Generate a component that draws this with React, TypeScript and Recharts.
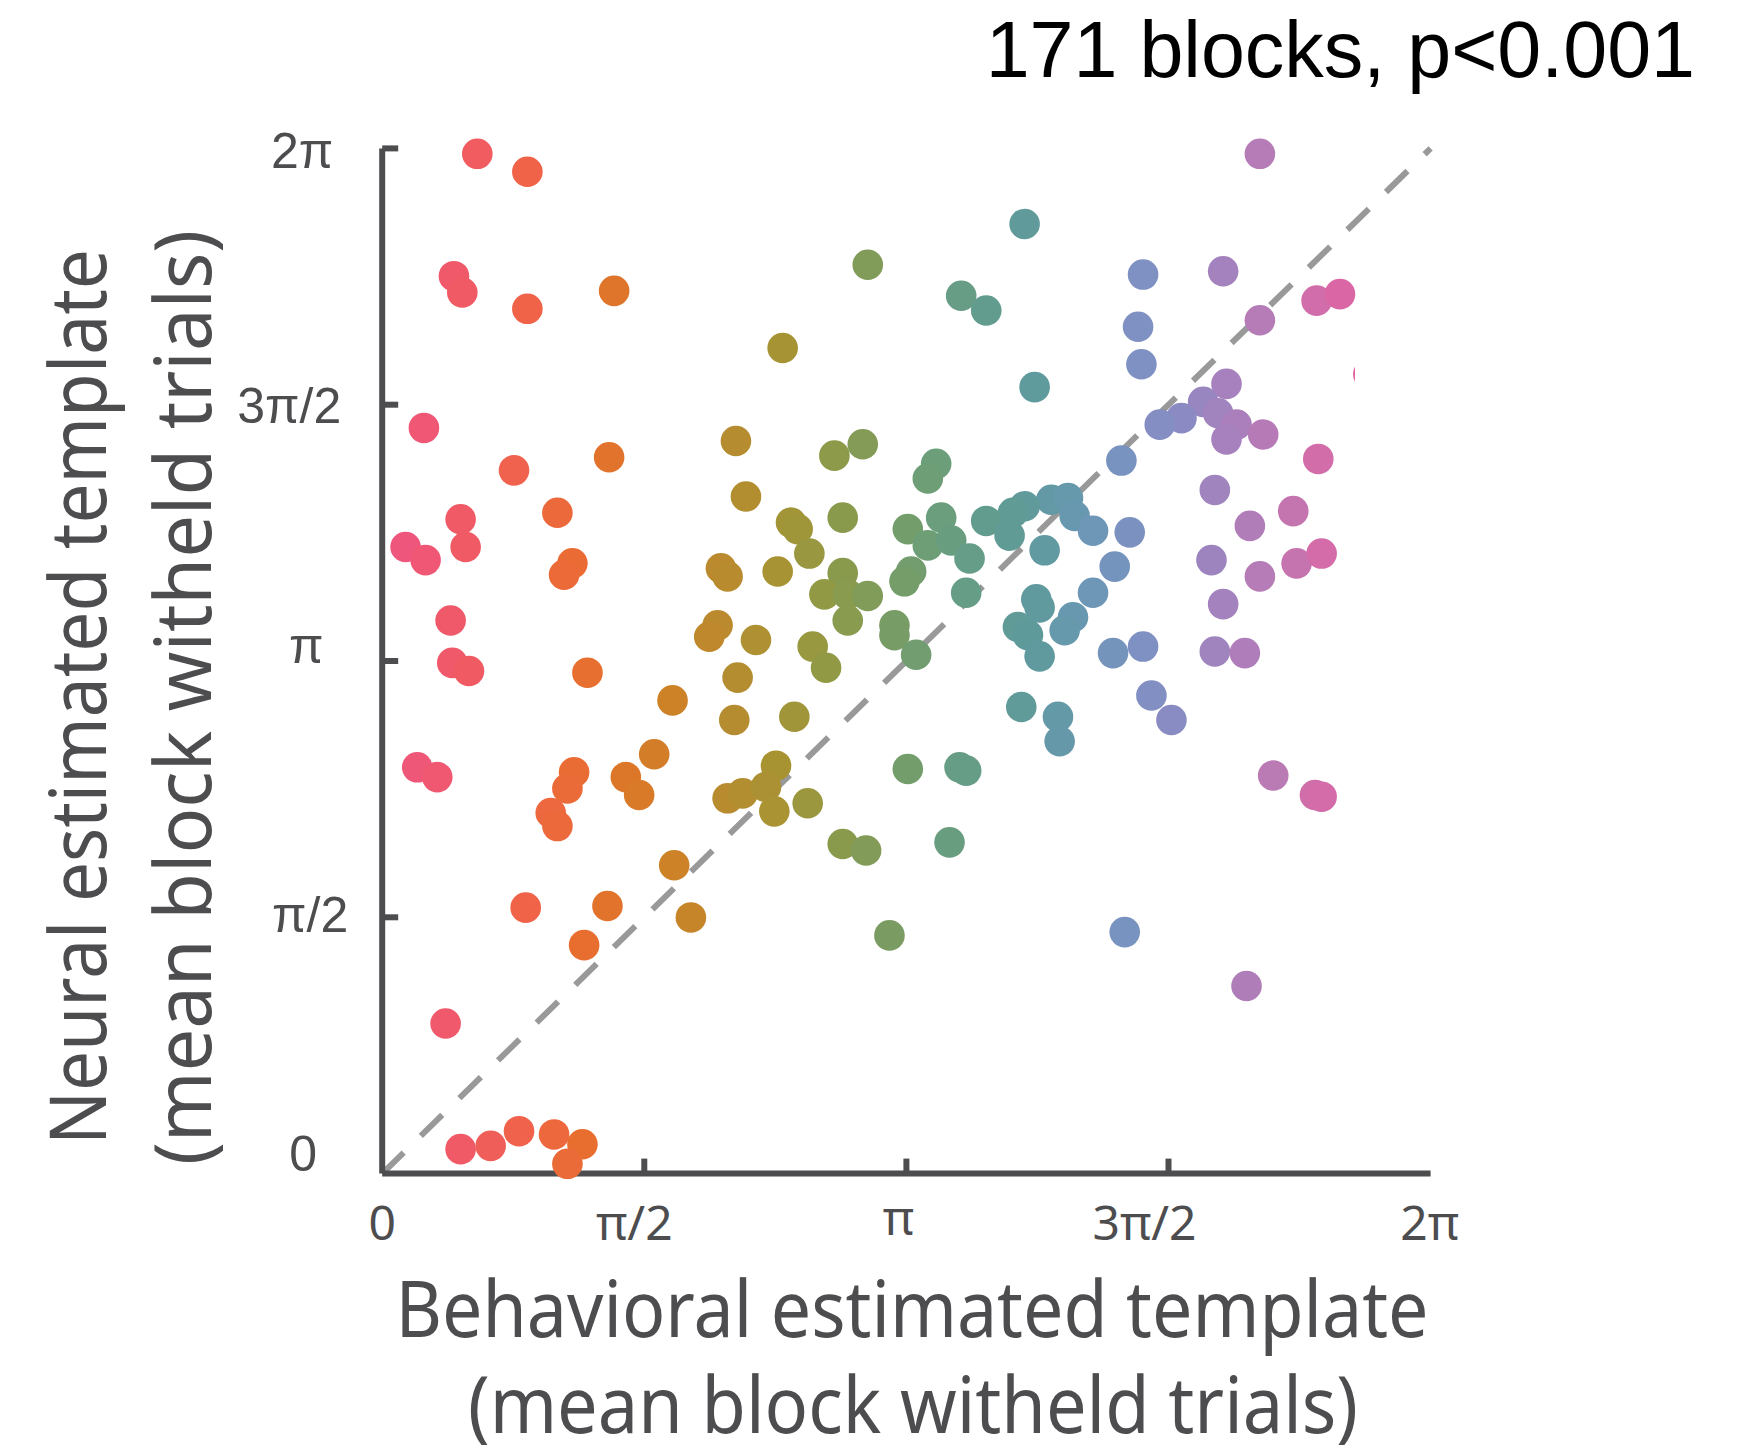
import React from "react";
import { ScatterChart, Scatter, XAxis, YAxis, ReferenceLine } from "recharts";

const TWO_PI = 2 * Math.PI;

// behavioral (x) and neural (y) template estimates, radians, one entry per block
const BEHAV_X = [
  0.57, 0.87, 0.43, 0.48, 0.87, 1.39, 2.91, 2.40, 0.25, 0.79,
  1.36, 2.12, 2.71, 2.88, 2.18, 0.47, 0.50, 0.14, 0.26, 1.05,
  1.14, 1.09, 2.45, 2.49, 2.56, 2.76, 2.03, 2.07, 2.37, 2.76,
  2.65, 2.79, 2.91, 2.79, 2.01, 1.96, 2.24, 2.58, 0.41, 0.42,
  0.52, 1.23, 2.13, 2.66, 1.74, 2.11, 2.47, 0.21, 0.33, 1.15,
  1.11, 1.01, 1.05, 1.46, 1.54, 1.63, 2.07, 2.16, 2.36, 2.30,
  2.35, 2.55, 2.76, 2.90, 3.15, 1.75, 1.85, 1.35, 1.21, 0.86,
  3.04, 0.38, 0.47, 0.65, 0.82, 1.03, 1.20, 1.11, 5.26, 3.85,
  4.56, 5.04, 3.47, 3.62, 4.53, 5.26, 5.60, 5.74, 4.55, 3.91,
  5.06, 4.92, 4.79, 4.66, 5.01, 5.12, 5.06, 5.28, 4.43, 5.61,
  3.32, 3.27, 4.99, 4.01, 4.11, 3.85, 3.78, 4.15, 4.26, 3.62,
  3.76, 3.35, 3.15, 3.27, 3.41, 3.52, 3.97, 4.48, 5.46, 5.20,
  5.48, 5.63, 4.97, 5.26, 5.04, 4.39, 4.26, 3.17, 3.13, 3.50,
  3.92, 3.94, 3.81, 3.87, 4.14, 4.09, 3.94, 4.38, 4.56, 4.99,
  5.17, 3.07, 3.07, 3.20, 5.91, 5.93, 3.83, 4.05, 4.06, 4.61,
  4.73, 3.46, 3.50, 3.40, 5.34, 5.59, 5.63, 4.45, 5.18,
];

const NEURAL_Y = [
  6.25, 6.14, 5.50, 5.40, 5.30, 5.41, 5.57, 5.06, 4.57, 4.31,
  4.39, 4.49, 4.40, 4.47, 4.15, 4.01, 3.84, 3.84, 3.76, 4.05,
  3.74, 3.67, 3.99, 3.95, 3.80, 4.02, 3.71, 3.66, 3.69, 3.68,
  3.55, 3.55, 3.54, 3.39, 3.36, 3.29, 3.27, 3.23, 3.39, 3.13,
  3.08, 3.07, 3.04, 3.10, 2.90, 2.78, 2.80, 2.49, 2.43, 2.46,
  2.36, 2.21, 2.13, 2.43, 2.32, 2.57, 2.30, 2.33, 2.50, 2.37,
  2.22, 2.27, 2.02, 1.98, 2.48, 1.89, 1.57, 1.64, 1.40, 1.63,
  1.46, 0.92, 0.15, 0.17, 0.26, 0.24, 0.18, 0.06, 6.25, 5.82,
  5.51, 5.53, 5.38, 5.29, 5.19, 5.23, 5.35, 5.39, 4.96, 4.82,
  4.84, 4.73, 4.63, 4.59, 4.66, 4.59, 4.50, 4.53, 4.37, 4.38,
  4.35, 4.26, 4.19, 4.13, 4.14, 4.09, 4.05, 4.03, 3.94, 4.00,
  3.91, 4.02, 3.95, 3.85, 3.88, 3.77, 3.82, 3.93, 4.06, 3.97,
  3.74, 3.80, 3.76, 3.66, 3.49, 3.72, 3.56, 3.69, 3.63, 3.56,
  3.52, 3.47, 3.35, 3.30, 3.41, 3.33, 3.17, 3.19, 3.23, 3.20,
  3.19, 3.36, 3.30, 3.18, 4.90, 4.18, 2.86, 2.80, 2.65, 2.93,
  2.78, 2.49, 2.47, 2.03, 2.44, 2.32, 2.31, 1.48, 1.15,
];

const TICKS = [0, Math.PI / 2, Math.PI, (3 * Math.PI) / 2, TWO_PI];
const TICK_LABELS = ["0", "π/2", "π", "3π/2", "2π"];

// muted circular colormap, sampled from the figure (position in radians -> colour)
const CMAP_POS = [0, 0.5, 0.9, 1.2, 1.5, 1.8, 2.1, 2.4, 2.7, 3.0, 3.3, 3.6, 3.9, 4.2, 4.5, 4.8, 5.1, 5.4, 5.7, 6.0];
const CMAP_HEX = [
  "#ee5486", "#f05a64", "#f06446", "#e86e30", "#da7828", "#ca8428", "#b68c30",
  "#a69434", "#8e9a48", "#7c9c60", "#6c9e78", "#629c8e", "#5f9a9c", "#6a98b4",
  "#7c92c2", "#8c8ac2", "#aa80bc", "#be78b2", "#da68a6", "#e45c9e",
];

const AXIS_GREY = "#4d4d4f";
const W = 1757;
const H = 1447;
const PLOT_LEFT = 382.2;
const PLOT_TOP = 148.4;
const PLOT_W = 1048.4;
const PLOT_H = 1025.2;
const Y_AXIS_W = 100;
const X_AXIS_H = 100;
const DOT_R = 15.3;
const PX_PER_RAD = PLOT_W / TWO_PI;
// the figure crops markers at this behavioral value on the right
const CLIP_X = 5.83;

const points = BEHAV_X.map((x, i) => ({ x, y: NEURAL_Y[i] }));

function hexToRgb(h: string) {
  return [1, 3, 5].map((k) => parseInt(h.slice(k, k + 2), 16));
}

function phaseColor(v: number) {
  if (v <= CMAP_POS[0]) return CMAP_HEX[0];
  for (let i = 1; i < CMAP_POS.length; i++) {
    if (v <= CMAP_POS[i]) {
      const t = (v - CMAP_POS[i - 1]) / (CMAP_POS[i] - CMAP_POS[i - 1]);
      const a = hexToRgb(CMAP_HEX[i - 1]);
      const b = hexToRgb(CMAP_HEX[i]);
      const c = a.map((ch, k) => Math.round(ch + (b[k] - ch) * t));
      return `rgb(${c[0]},${c[1]},${c[2]})`;
    }
  }
  return CMAP_HEX[CMAP_HEX.length - 1];
}

function Dot(props: any) {
  const { cx, cy, payload } = props;
  if (cx == null || cy == null) return null;
  const fill = phaseColor(payload.x);
  if (payload.x > CLIP_X) {
    const edge = cx - (payload.x - CLIP_X) * PX_PER_RAD;
    const id = `edge-clip-${Math.round(payload.x * 100)}-${Math.round(payload.y * 100)}`;
    return (
      <g>
        <defs>
          <clipPath id={id}>
            <rect x={edge - 60} y={cy - 30} width={60} height={60} />
          </clipPath>
        </defs>
        <circle cx={cx} cy={cy} r={DOT_R} fill={fill} clipPath={`url(#${id})`} />
      </g>
    );
  }
  return <circle cx={cx} cy={cy} r={DOT_R} fill={fill} />;
}

// label nudges copied from the figure's own tick text placement
const X_NUDGE = [
  { dx: 0, dy: 66 },
  { dx: -10, dy: 66 },
  { dx: -8, dy: 61 },
  { dx: -24, dy: 66 },
  { dx: -1, dy: 66 },
];
const Y_NUDGE = [
  { dx: -79, dy: -3 },
  { dx: -72, dy: 15 },
  { dx: -76, dy: 2 },
  { dx: -93, dy: 18 },
  { dx: -80, dy: 20 },
];

function XTick(props: any) {
  const { x, y, index } = props;
  const n = X_NUDGE[index];
  const showLine = index > 0 && index < TICKS.length - 1;
  return (
    <g>
      {showLine && <line x1={x} y1={y} x2={x} y2={y - 15} stroke={AXIS_GREY} strokeWidth={6} />}
      <text
        x={x + n.dx}
        y={y + n.dy}
        textAnchor="middle"
        fill={AXIS_GREY}
        fontFamily="Noto Sans"
        fontSize={48}
      >
        {TICK_LABELS[index]}
      </text>
    </g>
  );
}

function YTick(props: any) {
  const { x, y, index } = props;
  const n = Y_NUDGE[index];
  return (
    <g>
      {index > 0 && <line x1={x} y1={y} x2={x + 16} y2={y} stroke={AXIS_GREY} strokeWidth={6} />}
      <text
        x={x + n.dx}
        y={y + n.dy}
        textAnchor="middle"
        fill={AXIS_GREY}
        fontFamily="Liberation Sans"
        fontSize={50}
      >
        {TICK_LABELS[index]}
      </text>
    </g>
  );
}

export default function App() {
  const titleFont = { fontFamily: "Noto Sans", fontSize: 78, fill: AXIS_GREY };
  return (
    <div style={{ position: "absolute", left: 0, top: 0, width: W, height: H, background: "#fff" }}>
      <ScatterChart
        width={W}
        height={H}
        margin={{
          top: PLOT_TOP,
          left: PLOT_LEFT - Y_AXIS_W,
          right: W - PLOT_LEFT - PLOT_W,
          bottom: H - PLOT_TOP - PLOT_H - X_AXIS_H,
        }}
      >
        <XAxis
          type="number"
          dataKey="x"
          domain={[0, TWO_PI]}
          ticks={TICKS}
          interval={0}
          height={X_AXIS_H}
          tickSize={0}
          tickMargin={0}
          tickLine={false}
          axisLine={{ stroke: AXIS_GREY, strokeWidth: 6 }}
          tick={<XTick />}
        />
        <YAxis
          type="number"
          dataKey="y"
          domain={[0, TWO_PI]}
          ticks={TICKS}
          interval={0}
          width={Y_AXIS_W}
          tickSize={0}
          tickMargin={0}
          tickLine={false}
          axisLine={{ stroke: AXIS_GREY, strokeWidth: 6 }}
          tick={<YTick />}
        />
        <ReferenceLine
          segment={[
            { x: 0, y: 0 },
            { x: TWO_PI, y: TWO_PI },
          ]}
          stroke="#999999"
          strokeWidth={6}
          strokeDasharray="30 24"
          ifOverflow="visible"
        />
        <Scatter data={points} shape={<Dot />} isAnimationActive={false} />
      </ScatterChart>
      <svg
        width={W}
        height={H}
        style={{ position: "absolute", left: 0, top: 0, pointerEvents: "none" }}
      >
        <text
          x={1695}
          y={77}
          textAnchor="end"
          fontFamily="Liberation Sans"
          fontSize={79}
          fill="#000"
        >
          171 blocks, p&lt;0.001
        </text>
        <text x={912} y={1337} textAnchor="middle" textLength={1033} lengthAdjust="spacingAndGlyphs" {...titleFont}>
          Behavioral estimated template
        </text>
        <text x={913} y={1433} textAnchor="middle" textLength={890} lengthAdjust="spacingAndGlyphs" {...titleFont}>
          (mean block witheld trials)
        </text>
        <g transform="translate(106, 697) rotate(-90)">
          <text x={0} y={0} textAnchor="middle" textLength={896} lengthAdjust="spacingAndGlyphs" {...titleFont}>
            Neural estimated template
          </text>
        </g>
        <g transform="translate(211, 697.5) rotate(-90)">
          <text x={0} y={0} textAnchor="middle" textLength={935} lengthAdjust="spacingAndGlyphs" {...titleFont}>
            (mean block witheld trials)
          </text>
        </g>
      </svg>
    </div>
  );
}
